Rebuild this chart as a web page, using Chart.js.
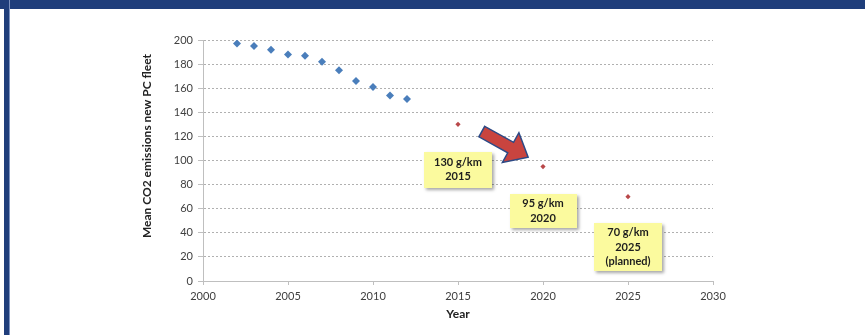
<!DOCTYPE html>
<html>
<head>
<meta charset="utf-8">
<script src="https://cdn.jsdelivr.net/npm/chart.js@4/dist/chart.umd.min.js"></script>
<style>
  html, body { margin: 0; padding: 0; background: #fff; }
  #wrap { position: relative; width: 865px; height: 335px; overflow: hidden; }
  #topband { position: absolute; left: 0; top: 0; width: 865px; height: 9px; background: #1f3e7b; z-index: 2; }
  #leftbar { position: absolute; left: 4px; top: 0; width: 5px; height: 335px; background: #1f3e7b; border-right: 1px solid #7d93c0; z-index: 2; }
  canvas { position: absolute; left: 0; top: 0; }
</style>
</head>
<body>
<div id="wrap">
  <div id="topband"></div>
  <div id="leftbar"></div>
  <canvas id="c" width="865" height="335"></canvas>
</div>
<script>
// ---- data ----
const historicYears = [2002, 2003, 2004, 2005, 2006, 2007, 2008, 2009, 2010, 2011, 2012];
const historicValues = [197, 195, 192, 188, 187, 182, 175, 166, 161, 154, 151];
const targetYears = [2015, 2020, 2025];
const targetValues = [130, 95, 70];
const noteYears = [2015, 2020, 2025];
const noteValues = [92.5, 58, 28];
const noteLabels = [["130 g/km", "2015"], ["95 g/km", "2020"], ["70 g/km", "2025", "(planned)"]];
const yTitle = "Mean CO2 emissions new PC fleet";
const xTitle = "Year";

const FONT = "Lato, 'Open Sans', sans-serif";

const notesPlugin = {
  id: 'notes',
  afterDatasetsDraw(chart) {
    const ctx = chart.ctx;
    const xs = chart.scales.x, ys = chart.scales.y;
    // arrow (between 2015 and 2020 notes)
    ctx.save();
    const tx = xs.getPixelForValue(2016.4), ty = ys.getPixelForValue(124);
    const ang = 29 * Math.PI / 180;
    ctx.translate(tx, ty);
    ctx.rotate(ang);
    const L = 53, headL = 20, headW = 17, shaftW = 6;
    ctx.beginPath();
    ctx.moveTo(0, -shaftW);
    ctx.lineTo(L - headL, -shaftW);
    ctx.lineTo(L - headL, -headW);
    ctx.lineTo(L, 0);
    ctx.lineTo(L - headL, headW);
    ctx.lineTo(L - headL, shaftW);
    ctx.lineTo(0, shaftW);
    ctx.closePath();
    ctx.fillStyle = '#c9443f';
    ctx.fill();
    ctx.lineWidth = 1.5;
    ctx.strokeStyle = '#2c4a86';
    ctx.stroke();
    ctx.restore();

    // notes
    const sizes = [[68, 36], [67, 34], [68, 48]];
    noteLabels.forEach((lines, i) => {
      const cx = xs.getPixelForValue(noteYears[i]);
      const cy = ys.getPixelForValue(noteValues[i]);
      const [w, h] = sizes[i];
      const x0 = Math.round(cx - w / 2), y0 = Math.round(cy - h / 2);
      ctx.save();
      ctx.shadowColor = 'rgba(0,0,0,0.35)';
      ctx.shadowBlur = 3;
      ctx.shadowOffsetX = 2;
      ctx.shadowOffsetY = 2;
      ctx.fillStyle = '#fbfa9e';
      ctx.fillRect(x0, y0, w, h);
      ctx.restore();
      ctx.save();
      ctx.fillStyle = '#1e1e1e';
      ctx.font = "bold 11px " + FONT;
      ctx.textAlign = 'center';
      ctx.textBaseline = 'middle';
      const lh = 14.5;
      const start = cy - (lines.length - 1) * lh / 2;
      lines.forEach((t, j) => ctx.fillText(t, cx, start + j * lh));
      ctx.restore();
    });

    // y title
    ctx.save();
    ctx.translate(147, 146);
    ctx.rotate(-Math.PI / 2);
    ctx.font = "bold 12px " + FONT;
    ctx.fillStyle = '#222';
    ctx.textAlign = 'center';
    ctx.textBaseline = 'middle';
    ctx.fillText(yTitle, 0, 0);
    ctx.restore();
  }
};

new Chart(document.getElementById('c'), {
  type: 'scatter',
  data: {
    datasets: [
      {
        data: historicYears.map((y, i) => ({ x: y, y: historicValues[i] })),
        pointStyle: 'rectRot',
        pointRadius: 4,
        pointHoverRadius: 4,
        backgroundColor: '#4a7ebb',
        borderColor: '#4a7ebb',
        borderWidth: 0
      },
      {
        data: targetYears.map((y, i) => ({ x: y, y: targetValues[i] })),
        pointStyle: 'rectRot',
        pointRadius: 2.6,
        pointHoverRadius: 2.6,
        backgroundColor: '#b9484a',
        borderColor: '#b9484a',
        borderWidth: 0
      }
    ]
  },
  options: {
    responsive: false,
    animation: false,
    events: [],
    layout: { padding: { left: 0, top: 40, right: 152, bottom: 0 } },
    plugins: { legend: { display: false }, tooltip: { enabled: false } },
    scales: {
      x: {
        type: 'linear',
        min: 2000, max: 2030,
        ticks: {
          stepSize: 5,
          padding: 5,
          color: '#404040',
          font: { family: FONT, size: 11 },
          callback: v => String(v)
        },
        grid: {
          drawOnChartArea: false,
          tickLength: 4,
          color: '#bfbfbf'
        },
        border: { color: '#bfbfbf', width: 1 },
        title: {
          display: true,
          text: xTitle,
          color: '#222',
          font: { family: FONT, size: 12, weight: 'bold' },
          padding: { top: 0, bottom: 14 }
        },
        afterFit(s) { s.height = 54; }
      },
      y: {
        min: 0, max: 200,
        ticks: {
          stepSize: 20,
          padding: 5,
          color: '#404040',
          font: { family: FONT, size: 11 }
        },
        grid: {
          tickLength: 5,
          color: ctx => ctx.tick && ctx.tick.value === 0 ? 'rgba(0,0,0,0)' : '#b0b0b0',
          tickColor: '#bfbfbf',
          tickBorderDash: [1, 0]
        },
        border: { color: '#bfbfbf', width: 1, dash: [2, 2] },
        afterFit(s) { s.width = 203; }
      }
    }
  },
  plugins: [notesPlugin]
});
</script>
</body>
</html>
